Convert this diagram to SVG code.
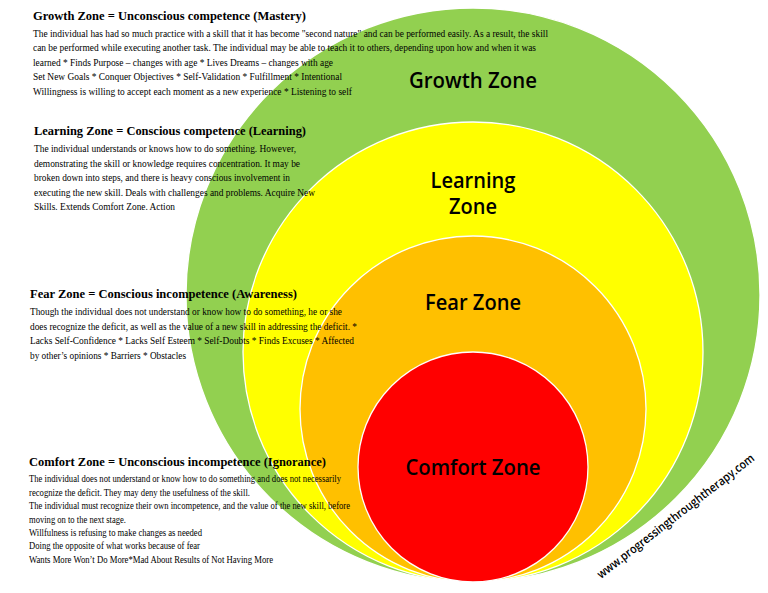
<svg xmlns="http://www.w3.org/2000/svg" width="768" height="593" viewBox="0 0 768 593">
<style>
  .zone { stroke: #ffffff; stroke-width: 1.3; }
  .label { font-family: "Open Sans", "Noto Sans", sans-serif; font-size: 22px; font-weight: 600; fill: #000000; text-anchor: middle; }
  .head { font-family: "Liberation Serif", "Times New Roman", serif; font-size: 13px; font-weight: bold; fill: #000000; }
  .body { font-family: "Liberation Serif", "Times New Roman", serif; font-size: 9.6px; fill: #000000; }
  .url { font-family: "Open Sans", "Noto Sans", sans-serif; font-size: 12px; font-weight: 600; fill: #000000; }
</style>
<rect x="0" y="0" width="768" height="593" fill="#ffffff"/>

<g id="growth-zone">
  <circle class="zone" cx="473" cy="295" r="287" fill="#92D050"/>
</g>
<g id="learning-zone">
  <circle class="zone" cx="473" cy="352" r="230" fill="#FFFF00"/>
</g>
<g id="fear-zone">
  <circle class="zone" cx="473" cy="409" r="173" fill="#FFC000"/>
</g>
<g id="comfort-zone">
  <circle class="zone" cx="473" cy="467" r="115" fill="#FF0000"/>
</g>

<g id="zone-labels">
  <text class="label" x="473" y="88" textLength="128" lengthAdjust="spacingAndGlyphs">Growth Zone</text>
  <text class="label" x="473" y="188" textLength="85" lengthAdjust="spacingAndGlyphs">Learning</text>
  <text class="label" x="473" y="214" textLength="48" lengthAdjust="spacingAndGlyphs">Zone</text>
  <text class="label" x="473" y="310" textLength="96" lengthAdjust="spacingAndGlyphs">Fear Zone</text>
  <text class="label" x="473" y="475" textLength="135" lengthAdjust="spacingAndGlyphs">Comfort Zone</text>
</g>

<g id="growth-text">
  <text class="head" x="33" y="20" textLength="273" lengthAdjust="spacingAndGlyphs">Growth Zone = Unconscious competence (Mastery)</text>
  <text class="body" x="33" y="37" textLength="515" lengthAdjust="spacingAndGlyphs">The individual has had so much practice with a skill that it has become "second nature" and can be performed easily. As a result, the skill</text>
  <text class="body" x="33" y="51" textLength="503" lengthAdjust="spacingAndGlyphs">can be performed while executing another task. The individual may be able to teach it to others, depending upon how and when it was</text>
  <text class="body" x="33" y="66" textLength="300" lengthAdjust="spacingAndGlyphs">learned * Finds Purpose – changes with age * Lives Dreams – changes with age</text>
  <text class="body" x="33" y="80" textLength="309" lengthAdjust="spacingAndGlyphs">Set New Goals * Conquer Objectives * Self-Validation * Fulfillment * Intentional</text>
  <text class="body" x="33" y="95" textLength="319" lengthAdjust="spacingAndGlyphs">Willingness is willing to accept each moment as a new experience * Listening to self</text>
</g>

<g id="learning-text">
  <text class="head" x="34" y="135" textLength="272" lengthAdjust="spacingAndGlyphs">Learning Zone = Conscious competence (Learning)</text>
  <text class="body" x="34" y="152" textLength="262" lengthAdjust="spacingAndGlyphs">The individual understands or knows how to do something. However,</text>
  <text class="body" x="34" y="167" textLength="266" lengthAdjust="spacingAndGlyphs">demonstrating the skill or knowledge requires concentration. It may be</text>
  <text class="body" x="34" y="181" textLength="256" lengthAdjust="spacingAndGlyphs">broken down into steps, and there is heavy conscious involvement in</text>
  <text class="body" x="34" y="196" textLength="281" lengthAdjust="spacingAndGlyphs">executing the new skill. Deals with challenges and problems. Acquire New</text>
  <text class="body" x="34" y="210" textLength="141" lengthAdjust="spacingAndGlyphs">Skills. Extends Comfort Zone. Action</text>
</g>

<g id="fear-text">
  <text class="head" x="30" y="298" textLength="267" lengthAdjust="spacingAndGlyphs">Fear Zone = Conscious incompetence (Awareness)</text>
  <text class="body" x="30" y="315" textLength="312" lengthAdjust="spacingAndGlyphs">Though the individual does not understand or know how to do something, he or she</text>
  <text class="body" x="30" y="330" textLength="327" lengthAdjust="spacingAndGlyphs">does recognize the deficit, as well as the value of a new skill in addressing the deficit. *</text>
  <text class="body" x="30" y="344" textLength="324" lengthAdjust="spacingAndGlyphs">Lacks Self-Confidence * Lacks Self Esteem * Self-Doubts * Finds Excuses * Affected</text>
  <text class="body" x="30" y="359" textLength="156" lengthAdjust="spacingAndGlyphs">by other’s opinions * Barriers * Obstacles</text>
</g>

<g id="comfort-text">
  <text class="head" x="29" y="466" textLength="297" lengthAdjust="spacingAndGlyphs">Comfort Zone = Unconscious incompetence (Ignorance)</text>
  <text class="body" x="29" y="482" textLength="312" lengthAdjust="spacingAndGlyphs">The individual does not understand or know how to do something and does not necessarily</text>
  <text class="body" x="29" y="496" textLength="221" lengthAdjust="spacingAndGlyphs">recognize the deficit. They may deny the usefulness of the skill.</text>
  <text class="body" x="29" y="509" textLength="321" lengthAdjust="spacingAndGlyphs">The individual must recognize their own incompetence, and the value of the new skill, before</text>
  <text class="body" x="29" y="523" textLength="97" lengthAdjust="spacingAndGlyphs">moving on to the next stage.</text>
  <text class="body" x="29" y="536" textLength="173" lengthAdjust="spacingAndGlyphs">Willfulness is refusing to make changes as needed</text>
  <text class="body" x="29" y="549" textLength="171" lengthAdjust="spacingAndGlyphs">Doing the opposite of what works because of fear</text>
  <text class="body" x="29" y="563" textLength="244" lengthAdjust="spacingAndGlyphs">Wants More Won’t Do More*Mad About Results of Not Having More</text>
</g>

<g id="watermark">
  <text class="url" transform="translate(601,579) rotate(-37.7)" x="0" y="0" textLength="195" lengthAdjust="spacingAndGlyphs">www.progressingthroughtherapy.com</text>
</g>

<g id="connectors"></g>
</svg>
